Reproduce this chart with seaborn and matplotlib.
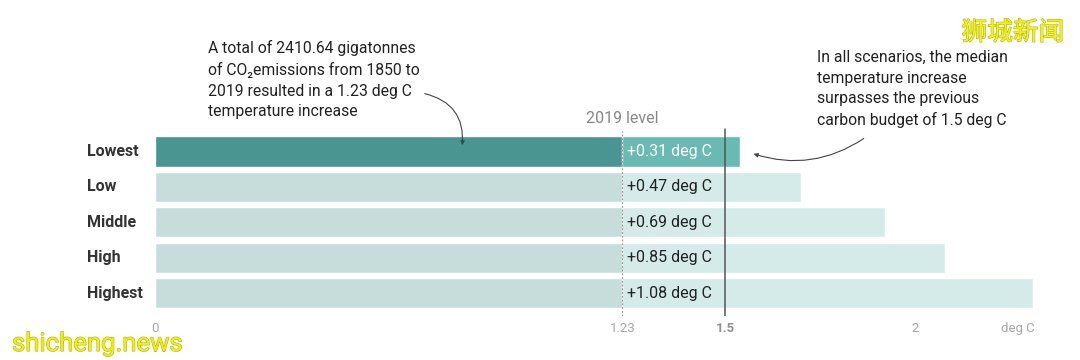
import matplotlib
matplotlib.use("Agg")
import matplotlib.pyplot as plt
import matplotlib.patheffects as pe
import seaborn as sns

sns.set_theme(style="white")
plt.rcParams['font.family'] = ['Roboto', 'DejaVu Sans']

# data
scenarios = ["Lowest", "Low", "Middle", "High", "Highest"]
increase = [0.31, 0.47, 0.69, 0.85, 1.08]
level_2019 = 1.23
budget = 1.5
tick_vals = [0, 1.23, 1.5, 2]
tick_labels = ["0", "1.23", "1.5", "2"]

totals = [level_2019 + v for v in increase]
base = [level_2019] * len(scenarios)

inc_colors = ["#68bab2", "#d5ebe9", "#d5ebe9", "#d5ebe9", "#d5ebe9"]
base_colors = ["#4a9592", "#c7dddc", "#c7dddc", "#c7dddc", "#c7dddc"]

fig = plt.figure(figsize=(10.8, 3.6), dpi=100)
ax = fig.add_axes([155 / 1080, 1 - 316 / 360, (1067 - 155) / 1080, 188 / 360])

sns.barplot(x=totals, y=scenarios, hue=scenarios, palette=inc_colors,
            legend=False, width=0.85, saturation=1, ax=ax, orient="h")
sns.barplot(x=base, y=scenarios, hue=scenarios, palette=base_colors,
            legend=False, width=0.85, saturation=1, ax=ax, orient="h")

ax.set_xlim(0, 2.4)
ax.set_ylim(4.646, -0.664)

ax.axvline(level_2019, color="#999999", lw=0.9, ls=(0, (1.5, 1.5)), ymax=0.985)
ax.axvline(budget, color="#555555", lw=1.1, ymax=0.995)

for i, v in enumerate(increase):
    ax.text(level_2019 + 0.013, i, f"+{v:.2f} deg C", va="center", ha="left",
            fontsize=11.5, color="white" if i == 0 else "#222222")

ax.set_yticks([])
ax.set_ylabel("")
for i, s in enumerate(scenarios):
    ax.text(-68 / 380, i, s, va="center", ha="left", fontsize=11.5,
            fontweight="bold", color="#333333")

ax.set_xticks(tick_vals)
ax.set_xticklabels(tick_labels, fontsize=9.5, color="#a8a8a8")
ax.get_xticklabels()[2].set_fontweight("bold")
ax.get_xticklabels()[2].set_color("#909090")
ax.tick_params(axis="x", length=0, pad=4)
ax.text(2.27, -0.03, "deg C", transform=ax.get_xaxis_transform(),
        ha="center", va="top", fontsize=9.5, color="#a8a8a8")
for sp in ax.spines.values():
    sp.set_visible(False)

ax.text(level_2019, -0.93, "2019 level", ha="center", va="center",
        fontsize=11.5, color="#888888")

fig.text(208 / 1080, 1 - 40 / 360,
         "A total of 2410.64 gigatonnes\nof CO\u2082emissions from 1850 to\n"
         "2019 resulted in a 1.23 deg C\ntemperature increase",
         ha="left", va="top", fontsize=11.3, color="#222222", linespacing=1.47)
fig.text(817 / 1080, 1 - 50 / 360,
         "In all scenarios, the median\ntemperature increase\n"
         "surpasses the previous\ncarbon budget of 1.5 deg C",
         ha="left", va="top", fontsize=11.3, color="#222222", linespacing=1.47)

ax.annotate("", xy=(462, 360 - 148), xycoords="figure pixels",
            xytext=(422, 360 - 93), textcoords="figure pixels",
            arrowprops=dict(arrowstyle="-|>", color="#444444", lw=0.8,
                            mutation_scale=6,
                            connectionstyle="arc3,rad=-0.45"))
ax.annotate("", xy=(751, 360 - 153), xycoords="figure pixels",
            xytext=(866, 360 - 137), textcoords="figure pixels",
            arrowprops=dict(arrowstyle="-|>", color="#444444", lw=0.8,
                            mutation_scale=6,
                            connectionstyle="arc3,rad=-0.25"))

# watermarks
stroke = [pe.withStroke(linewidth=0.8, foreground="#b0b030")]
fig.text(1013 / 1080, 1 - 33 / 360, "狮城新闻", ha="center", va="center",
         fontsize=18.5, color="#f5f500", family=["Noto Sans CJK SC", "DejaVu Sans"],
         path_effects=stroke)
fig.text(12 / 1080, 1 - 344 / 360, "shicheng.news", ha="left", va="center",
         fontsize=18.5, color="#f0f000", path_effects=stroke)

fig.savefig("out.png", dpi=100, facecolor="white")
